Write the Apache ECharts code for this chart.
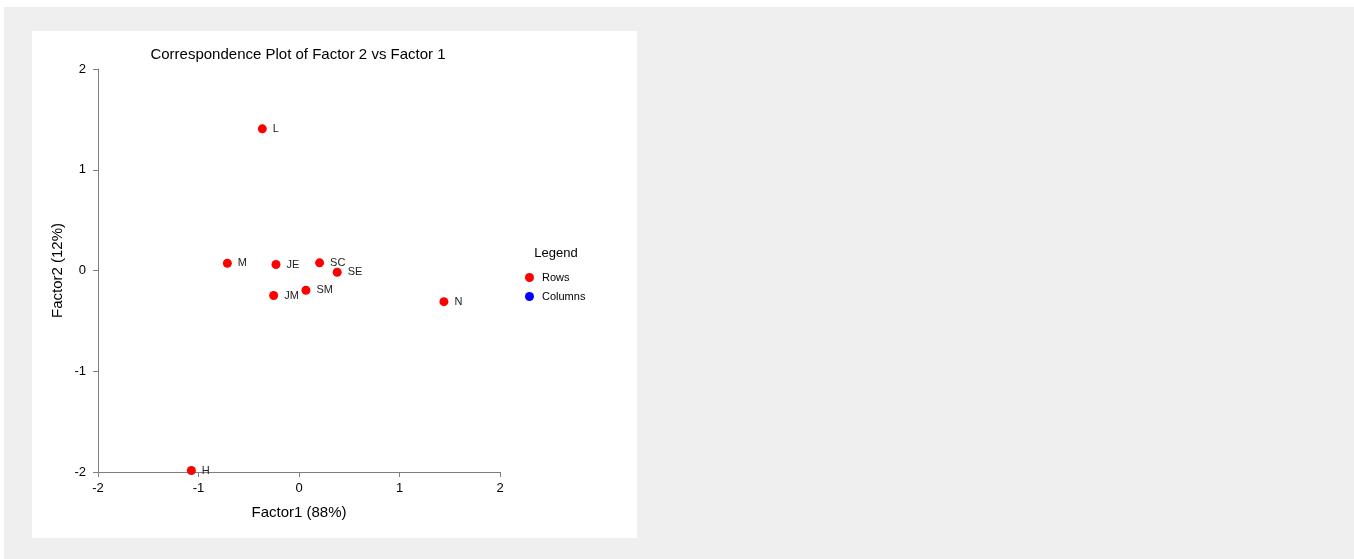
<!DOCTYPE html>
<html>
<head>
<meta charset="utf-8">
<script src="https://cdn.jsdelivr.net/npm/echarts@6/dist/echarts.min.js"></script>
<style>
  html, body { margin: 0; padding: 0; background: #ffffff; }
  #frame { position: absolute; left: 4px; top: 7px; width: 1350px; height: 552px; background: #efefef; }
  #panel { position: absolute; left: 32px; top: 31px; width: 605px; height: 507px; background: #ffffff; }
  #chart { position: absolute; left: 0; top: 0; width: 1354px; height: 559px; }
</style>
</head>
<body>
<div id="frame"></div>
<div id="panel"></div>
<div id="chart"></div>
<script>
// Row points of the correspondence analysis
const rowNames = ['L', 'M', 'JE', 'SC', 'SE', 'JM', 'SM', 'N', 'H'];
const factor1 = [-0.365, -0.713, -0.229, 0.205, 0.380, -0.252, 0.069, 1.442, -1.071];
const factor2 = [1.406, 0.072, 0.059, 0.076, -0.017, -0.248, -0.196, -0.309, -1.985];
// Column points (none plotted)
const colNames = [];
const colFactor1 = [];
const colFactor2 = [];

const rowData = rowNames.map((n, i) => ({ name: n, value: [factor1[i], factor2[i]] }));
const colData = colNames.map((n, i) => ({ name: n, value: [colFactor1[i], colFactor2[i]] }));

const font = 'Arial, "Liberation Sans", sans-serif';
const axisCommon = {
  min: -2, max: 2, interval: 1,
  axisLine: { show: true, onZero: false, lineStyle: { color: '#7f7f7f', width: 1 } },
  axisTick: { show: true, length: 5, lineStyle: { color: '#7f7f7f' } },
  splitLine: { show: false },
  nameLocation: 'middle',
  nameTextStyle: { color: '#000', fontSize: 15, fontFamily: font }
};
const tickText = { color: '#000', fontSize: 13, fontFamily: font };

const chart = echarts.init(document.getElementById('chart'));
chart.setOption({
  animation: false,
  title: [
    { text: 'Correspondence Plot of Factor 2 vs Factor 1', left: 298, top: 47, textAlign: 'center', padding: 0,
      textStyle: { fontSize: 15, fontWeight: 'normal', color: '#000', fontFamily: font } },
    { text: 'Legend', left: 556, top: 247, textAlign: 'center', padding: 0,
      textStyle: { fontSize: 13, fontWeight: 'normal', color: '#000', fontFamily: font } }
  ],
  legend: {
    orient: 'vertical', left: 525, top: 272, itemGap: 8, padding: 0,
    itemWidth: 9, itemHeight: 9, icon: 'circle',
    textStyle: { fontSize: 11, color: '#000', fontFamily: font, padding: [0, 0, 0, 3] },
    data: ['Rows', 'Columns']
  },
  grid: { left: 98, top: 69, width: 402, height: 403 },
  xAxis: Object.assign({}, axisCommon, {
    type: 'value', name: 'Factor1 (88%)', nameGap: 33,
    axisLabel: Object.assign({ margin: 10 }, tickText)
  }),
  yAxis: Object.assign({}, axisCommon, {
    type: 'value', name: 'Factor2 (12%)', nameGap: 33,
    axisLabel: Object.assign({ margin: 12 }, tickText)
  }),
  series: [
    {
      name: 'Rows', type: 'scatter', data: rowData, symbolSize: 9,
      itemStyle: { color: '#ff0000', opacity: 1 },
      label: { show: true, position: 'right', distance: 6, formatter: '{b}',
        fontSize: 11, color: '#222', fontFamily: font }
    },
    {
      name: 'Columns', type: 'scatter', data: colData, symbolSize: 9,
      itemStyle: { color: '#0000ff', opacity: 1 },
      label: { show: true, position: 'right', distance: 6, formatter: '{b}',
        fontSize: 11, color: '#222', fontFamily: font }
    }
  ]
});
</script>
</body>
</html>
